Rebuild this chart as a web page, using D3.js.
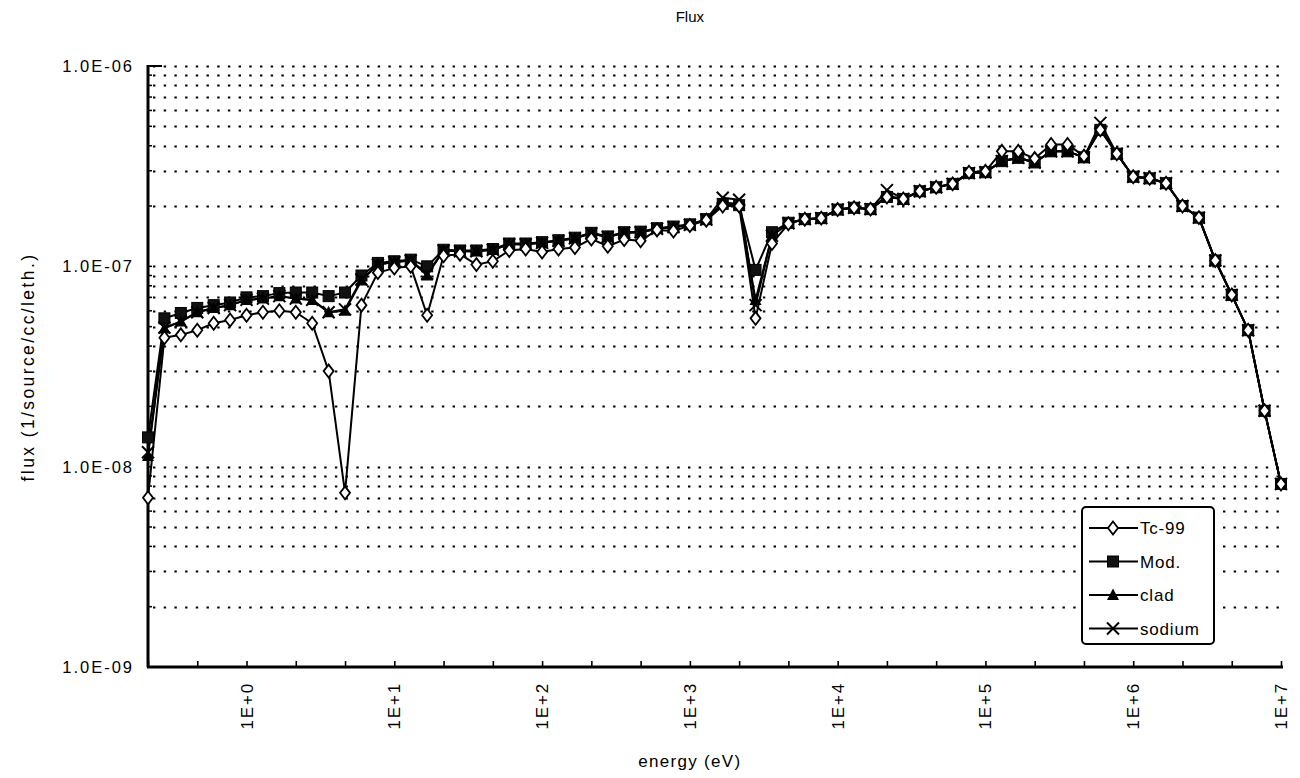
<!DOCTYPE html>
<html>
<head>
<meta charset="utf-8">
<script src="https://cdn.jsdelivr.net/npm/d3@7"></script>
<style>
  html, body { margin: 0; padding: 0; background: #fff; }
  svg { display: block; }
  text { font-family: "Liberation Sans", Arial, Helvetica, sans-serif; fill: #000; }
</style>
</head>
<body>
<svg id="chart" width="1300" height="778"></svg>
<script>
// Energy-group index of each point (9 groups per decade)
const groups = d3.range(0, 70);

// Flux per unit lethargy by region
const tc99 = [7.0e-9, 4.4e-8, 4.55e-8, 4.8e-8, 5.2e-8, 5.4e-8, 5.7e-8, 5.9e-8, 6.0e-8, 5.9e-8,
  5.2e-8, 3.0e-8, 7.4e-9, 6.4e-8, 9.3e-8, 9.8e-8, 1.0e-7, 5.7e-8, 1.13e-7, 1.15e-7,
  1.02e-7, 1.06e-7, 1.2e-7, 1.22e-7, 1.18e-7, 1.22e-7, 1.24e-7, 1.37e-7, 1.26e-7, 1.36e-7,
  1.34e-7, 1.52e-7, 1.5e-7, 1.6e-7, 1.7e-7, 2.0e-7, 2.0e-7, 5.5e-8, 1.3e-7, 1.63e-7,
  1.72e-7, 1.74e-7, 1.92e-7, 1.96e-7, 1.93e-7, 2.22e-7, 2.17e-7, 2.37e-7, 2.48e-7, 2.58e-7,
  2.95e-7, 2.98e-7, 3.75e-7, 3.75e-7, 3.45e-7, 4.06e-7, 4.06e-7, 3.55e-7, 4.8e-7, 3.65e-7,
  2.8e-7, 2.75e-7, 2.6e-7, 2.0e-7, 1.75e-7, 1.07e-7, 7.2e-8, 4.8e-8, 1.9e-8, 8.2e-9];

const mod = [1.4e-8, 5.5e-8, 5.85e-8, 6.2e-8, 6.4e-8, 6.6e-8, 7.0e-8, 7.1e-8, 7.35e-8, 7.4e-8,
  7.4e-8, 7.1e-8, 7.4e-8, 9.0e-8, 1.04e-7, 1.06e-7, 1.08e-7, 1.0e-7, 1.21e-7, 1.2e-7,
  1.2e-7, 1.22e-7, 1.3e-7, 1.3e-7, 1.32e-7, 1.35e-7, 1.39e-7, 1.47e-7, 1.41e-7, 1.48e-7,
  1.49e-7, 1.55e-7, 1.58e-7, 1.62e-7, 1.72e-7, 2.05e-7, 2.02e-7, 9.6e-8, 1.48e-7, 1.65e-7,
  1.72e-7, 1.74e-7, 1.92e-7, 1.96e-7, 1.93e-7, 2.22e-7, 2.17e-7, 2.37e-7, 2.48e-7, 2.58e-7,
  2.92e-7, 2.95e-7, 3.35e-7, 3.48e-7, 3.3e-7, 3.75e-7, 3.75e-7, 3.5e-7, 4.8e-7, 3.65e-7,
  2.8e-7, 2.75e-7, 2.6e-7, 2.0e-7, 1.75e-7, 1.07e-7, 7.2e-8, 4.8e-8, 1.9e-8, 8.2e-9];

const clad = [1.13e-8, 4.9e-8, 5.3e-8, 5.9e-8, 6.2e-8, 6.4e-8, 6.8e-8, 6.9e-8, 7.1e-8, 6.9e-8,
  6.8e-8, 5.9e-8, 6.0e-8, 8.5e-8, 1.02e-7, 1.05e-7, 1.07e-7, 9.0e-8, 1.2e-7, 1.19e-7,
  1.19e-7, 1.21e-7, 1.29e-7, 1.29e-7, 1.31e-7, 1.34e-7, 1.38e-7, 1.46e-7, 1.4e-7, 1.47e-7,
  1.48e-7, 1.54e-7, 1.57e-7, 1.61e-7, 1.71e-7, 2.08e-7, 2.05e-7, 6.8e-8, 1.42e-7, 1.64e-7,
  1.72e-7, 1.74e-7, 1.92e-7, 1.96e-7, 1.93e-7, 2.25e-7, 2.17e-7, 2.37e-7, 2.48e-7, 2.58e-7,
  2.92e-7, 2.95e-7, 3.35e-7, 3.48e-7, 3.3e-7, 3.75e-7, 3.75e-7, 3.5e-7, 4.9e-7, 3.65e-7,
  2.8e-7, 2.75e-7, 2.6e-7, 2.0e-7, 1.75e-7, 1.07e-7, 7.2e-8, 4.8e-8, 1.9e-8, 8.2e-9];

const sodium = [1.18e-8, 4.95e-8, 5.3e-8, 5.9e-8, 6.2e-8, 6.4e-8, 6.8e-8, 6.9e-8, 7.1e-8, 6.9e-8,
  6.8e-8, 5.9e-8, 6.1e-8, 8.6e-8, 1.02e-7, 1.05e-7, 1.07e-7, 9.2e-8, 1.2e-7, 1.19e-7,
  1.19e-7, 1.21e-7, 1.29e-7, 1.29e-7, 1.31e-7, 1.34e-7, 1.38e-7, 1.46e-7, 1.4e-7, 1.47e-7,
  1.48e-7, 1.54e-7, 1.57e-7, 1.61e-7, 1.71e-7, 2.2e-7, 2.15e-7, 6.4e-8, 1.42e-7, 1.64e-7,
  1.72e-7, 1.74e-7, 1.92e-7, 1.96e-7, 1.93e-7, 2.4e-7, 2.17e-7, 2.37e-7, 2.48e-7, 2.58e-7,
  2.92e-7, 2.95e-7, 3.35e-7, 3.48e-7, 3.3e-7, 3.75e-7, 3.75e-7, 3.5e-7, 5.2e-7, 3.65e-7,
  2.8e-7, 2.75e-7, 2.6e-7, 2.0e-7, 1.75e-7, 1.07e-7, 7.2e-8, 4.8e-8, 1.9e-8, 8.2e-9];

// Axis labels
const xTickGroups = [6, 15, 24, 33, 42, 51, 60, 69];
const xTickLabels = ["1E+0", "1E+1", "1E+2", "1E+3", "1E+4", "1E+5", "1E+6", "1E+7"];
const yTickValues = [1e-9, 1e-8, 1e-7, 1e-6];
const yTickLabels = ["1.0E-09", "1.0E-08", "1.0E-07", "1.0E-06"];
const seriesNames = ["Tc-99", "Mod.", "clad", "sodium"];

const svg = d3.select("#chart");
const plot = { left: 148, right: 1281, top: 66, bottom: 667 };

const x = d3.scaleLinear().domain([0, groups.length - 1]).range([plot.left, plot.right]);
const y = d3.scaleLog().domain([1e-9, 1e-6]).range([plot.bottom, plot.top]);

// Dotted gridlines at 1..9 x 10^n, including the top of the range
const gridVals = [];
for (let e = -9; e < -6; e++) {
  for (let k = 1; k <= 9; k++) {
    const v = k * Math.pow(10, e);
    if (v > 1e-9) gridVals.push(v);
  }
}
gridVals.push(1e-6);
svg.append("g").selectAll("line").data(gridVals).join("line")
  .attr("x1", plot.left + 5).attr("x2", plot.right)
  .attr("y1", d => Math.round(y(d)) + 0.5).attr("y2", d => Math.round(y(d)) + 0.5)
  .attr("stroke", "#000").attr("stroke-width", 2.2)
  .attr("stroke-dasharray", "2.4,8.3");

// Solid value and energy axes
svg.append("line").attr("x1", plot.left).attr("x2", plot.left)
  .attr("y1", plot.top - 1).attr("y2", plot.bottom).attr("stroke", "#000").attr("stroke-width", 3);
svg.append("line").attr("x1", plot.left - 1).attr("x2", plot.right + 2)
  .attr("y1", plot.bottom).attr("y2", plot.bottom).attr("stroke", "#000").attr("stroke-width", 3);
svg.append("line").attr("x1", plot.left).attr("x2", plot.left + 14)
  .attr("y1", plot.top).attr("y2", plot.top).attr("stroke", "#000").attr("stroke-width", 2);

// Small inner ticks on the value axis
svg.append("g").selectAll("line").data(gridVals).join("line")
  .attr("x1", plot.left).attr("x2", plot.left + 4)
  .attr("y1", d => y(d)).attr("y2", d => y(d))
  .attr("stroke", "#000").attr("stroke-width", 1.5);

// Category ticks on the energy axis, every third group
const xAxis = d3.axisBottom(x).tickValues(d3.range(0, groups.length, 3))
  .tickSizeInner(-6).tickSizeOuter(0).tickFormat("");
const gx = svg.append("g").attr("transform", `translate(0,${plot.bottom})`).call(xAxis);
gx.select(".domain").remove();
gx.selectAll(".tick line").attr("stroke", "#000").attr("stroke-width", 1.6);

// Rotated energy labels
svg.append("g").selectAll("text").data(xTickGroups).join("text")
  .attr("transform", d => `translate(${x(d) + 6},${plot.bottom + 15}) rotate(-90)`)
  .attr("text-anchor", "end")
  .style("font-size", "17px").style("letter-spacing", "1.8px")
  .text((d, i) => xTickLabels[i]);

// Value-axis labels
svg.append("g").selectAll("text").data(yTickValues).join("text")
  .attr("x", plot.left - 14).attr("y", d => y(d) + 6)
  .attr("text-anchor", "end")
  .style("font-size", "16.5px").style("letter-spacing", "2px")
  .text((d, i) => yTickLabels[i]);

// Titles
svg.append("text").attr("x", x(33)).attr("y", 22).attr("text-anchor", "middle")
  .style("font-size", "15px").text("Flux");
svg.append("text").attr("x", x(33)).attr("y", 767).attr("text-anchor", "middle")
  .style("font-size", "17px").style("letter-spacing", "1.3px").text("energy (eV)");
svg.append("text").attr("transform", "translate(34,367) rotate(-90)")
  .attr("text-anchor", "middle")
  .style("font-size", "17.5px").style("letter-spacing", "2.4px")
  .text("flux  (1/source/cc/leth.)");

// Marker shapes
const markers = {
  diamond: g => g.append("path").attr("d", "M0,-6.5L5,0L0,6.5L-5,0Z")
    .attr("fill", "#fff").attr("stroke", "#000").attr("stroke-width", 1.8),
  square: g => g.append("rect").attr("x", -5.5).attr("y", -5.5).attr("width", 11).attr("height", 11)
    .attr("fill", "#111").attr("stroke", "#000").attr("stroke-width", 1),
  triangle: g => g.append("path").attr("d", "M0,-6.5L6,5L-6,5Z")
    .attr("fill", "#000"),
  cross: g => g.append("path").attr("d", "M-6,-6L6,6M-6,6L6,-6")
    .attr("stroke", "#000").attr("stroke-width", 2).attr("fill", "none")
};

const series = [
  { name: seriesNames[0], values: tc99, marker: "diamond" },
  { name: seriesNames[1], values: mod, marker: "square" },
  { name: seriesNames[2], values: clad, marker: "triangle" },
  { name: seriesNames[3], values: sodium, marker: "cross" }
];

const line = d3.line().x((d, i) => x(groups[i])).y(d => y(d));

// Lines first, then markers; open diamonds go on top
series.forEach(s => {
  svg.append("path").datum(s.values).attr("d", line)
    .attr("fill", "none").attr("stroke", "#000").attr("stroke-width", 2)
    .attr("stroke-linejoin", "round");
});
[series[1], series[2], series[3], series[0]].forEach(s => {
  const g = svg.append("g");
  s.values.forEach((v, i) => {
    const m = g.append("g").attr("transform", `translate(${x(groups[i])},${y(v)})`);
    markers[s.marker](m);
  });
});

// Legend
const lg = svg.append("g").attr("transform", "translate(1082,507)");
lg.append("rect").attr("width", 132).attr("height", 137).attr("rx", 4)
  .attr("fill", "#fff").attr("stroke", "#000").attr("stroke-width", 2);
series.forEach((s, i) => {
  const row = lg.append("g").attr("transform", `translate(0,${21 + i * 33.5})`);
  row.append("line").attr("x1", 7).attr("x2", 56).attr("y1", 0).attr("y2", 0)
    .attr("stroke", "#000").attr("stroke-width", 2);
  markers[s.marker](row.append("g").attr("transform", "translate(31,0)"));
  row.append("text").attr("x", 58).attr("y", 6)
    .style("font-size", "17px").style("letter-spacing", "0.8px").text(s.name);
});
</script>
</body>
</html>
